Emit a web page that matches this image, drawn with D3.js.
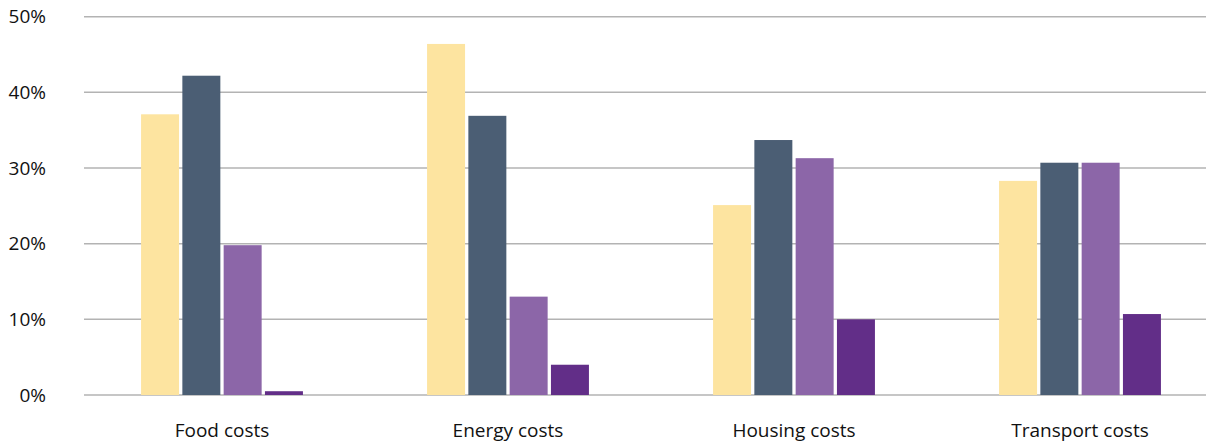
<!DOCTYPE html>
<html>
<head>
<meta charset="utf-8">
<script src="https://cdn.jsdelivr.net/npm/d3@7"></script>
<style>
  body { margin: 0; background: #fff; }
  text { font-family: "Open Sans", "Noto Sans", sans-serif; fill: #111; }
</style>
</head>
<body>
<div id="chart"></div>
<script>
// data
var categories = ["Food costs", "Energy costs", "Housing costs", "Transport costs"];
var seriesNames = ["s1", "s2", "s3", "s4"];
var s1 = [37.1, 46.4, 25.1, 28.3];
var s2 = [42.2, 36.9, 33.7, 30.7];
var s3 = [19.8, 13.0, 31.3, 30.7];
var s4 = [0.5, 4.0, 10.0, 10.7];
var yTicks = [0, 10, 20, 30, 40, 50];
var colors = ["#fde4a0", "#4b5e74", "#8c66a8", "#622e88"];

var width = 1214, height = 445;

var svg = d3.select("#chart")
    .append("svg")
    .attr("width", width)
    .attr("height", height);

var y = d3.scaleLinear().domain([0, 50]).range([395, 16.7]);

var x0 = d3.scaleBand()
    .domain(categories)
    .range([79, 1223])
    .paddingInner(0.434)
    .paddingOuter(0.217);

var x1 = d3.scaleBand()
    .domain(seriesNames)
    .range([0, x0.bandwidth()])
    .paddingInner(0.08);

var table = categories.map(function (c, i) {
    return { cat: c, vals: [s1[i], s2[i], s3[i], s4[i]] };
});

// gridlines
svg.append("g")
    .selectAll("line")
    .data(yTicks)
    .enter().append("line")
    .attr("x1", 84)
    .attr("x2", 1206)
    .attr("y1", function (d) { return y(d); })
    .attr("y2", function (d) { return y(d); })
    .attr("stroke", "#b3b3b3")
    .attr("stroke-width", 1.5);

// y axis labels
var yAxis = d3.axisLeft(y)
    .tickValues(yTicks)
    .tickSize(0)
    .tickPadding(0)
    .tickFormat(function (d) { return d + "%"; });

var gy = svg.append("g")
    .attr("transform", "translate(46,0)")
    .call(yAxis);
gy.select(".domain").remove();
gy.selectAll("text")
    .attr("font-size", 19)
    .attr("fill", "#111");

// bars
var groups = svg.append("g")
    .selectAll("g")
    .data(table)
    .enter().append("g")
    .attr("transform", function (d) { return "translate(" + x0(d.cat) + ",0)"; });

groups.selectAll("rect")
    .data(function (d) { return d.vals; })
    .enter().append("rect")
    .attr("x", function (d, i) { return x1(seriesNames[i]); })
    .attr("width", x1.bandwidth())
    .attr("y", function (d) { return y(d); })
    .attr("height", function (d) { return y(0) - y(d); })
    .attr("fill", function (d, i) { return colors[i]; });

// x axis labels
var xAxis = d3.axisBottom(x0).tickSize(0).tickPadding(0);
var gx = svg.append("g")
    .call(xAxis);
gx.select(".domain").remove();
gx.selectAll("text")
    .attr("y", 437)
    .attr("dy", 0)
    .attr("font-size", 19)
    .attr("fill", "#111");
</script>
</body>
</html>
